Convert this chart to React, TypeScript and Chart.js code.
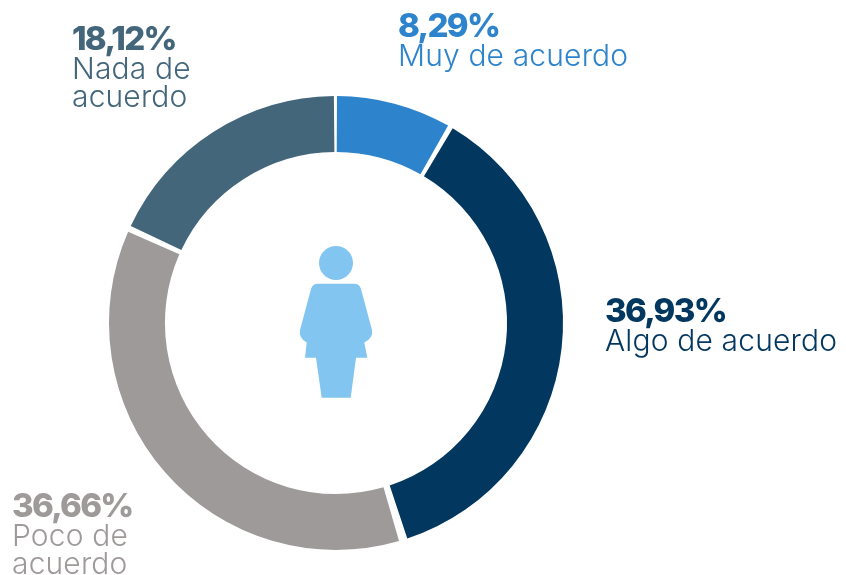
import React, { useEffect, useRef } from "react";
import { Chart, registerables } from "chart.js";

Chart.register(...registerables);

const categories = ["Muy de acuerdo", "Algo de acuerdo", "Poco de acuerdo", "Nada de acuerdo"];
const values = [8.29, 36.93, 36.66, 18.12];
const valueLabels = ["8,29%", "36,93%", "36,66%", "18,12%"];
const colors = ["#2e84cc", "#02375f", "#9e9a99", "#43667b"];
const labelLines = [["Muy de acuerdo"], ["Algo de acuerdo"], ["Poco de", "acuerdo"], ["Nada de", "acuerdo"]];
const labelAnchors = [
  { x: 398, y: 37 },
  { x: 605, y: 322 },
  { x: 12, y: 517 },
  { x: 72, y: 50 },
];

const FONT = "Inter, 'Open Sans', sans-serif";

const overlay = {
  id: "overlay",
  afterDraw(chart: any) {
    const ctx = chart.ctx as CanvasRenderingContext2D;
    const arc = chart.getDatasetMeta(0).data[0];
    const cx = arc.x;
    const cy = arc.y;
    ctx.save();
    ctx.fillStyle = "#82c5f0";
    ctx.beginPath();
    ctx.arc(cx, cy - 60, 17, 0, Math.PI * 2);
    ctx.fill();
    const P = (x: number, y: number): [number, number] => [cx + x, cy + y];
    ctx.beginPath();
    ctx.moveTo(...P(-18, -39.3));
    ctx.lineTo(...P(18, -39.3));
    ctx.quadraticCurveTo(...P(23.5, -39.3), ...P(25, -34));
    ctx.lineTo(...P(36, 7));
    ctx.quadraticCurveTo(...P(37.5, 15), ...P(28.3, 19.5));
    ctx.lineTo(...P(31.3, 34.7));
    ctx.lineTo(...P(20, 34.7));
    ctx.lineTo(...P(14.7, 74.7));
    ctx.lineTo(...P(-14.3, 74.7));
    ctx.lineTo(...P(-20, 34.7));
    ctx.lineTo(...P(-31, 34.7));
    ctx.lineTo(...P(-29.3, 19.5));
    ctx.quadraticCurveTo(...P(-37.5, 15), ...P(-36, 7));
    ctx.lineTo(...P(-25, -34));
    ctx.quadraticCurveTo(...P(-23.5, -39.3), ...P(-18, -39.3));
    ctx.closePath();
    ctx.fill();

    ctx.textAlign = "left";
    ctx.textBaseline = "alphabetic";
    values.forEach((_, i) => {
      const a = labelAnchors[i];
      ctx.fillStyle = colors[i];
      ctx.font = `800 33px ${FONT}`;
      (ctx as any).letterSpacing = "-1.7px";
      ctx.fillText(valueLabels[i], a.x, a.y);
      ctx.font = `300 30px ${FONT}`;
      (ctx as any).letterSpacing = "0.15px";
      labelLines[i].forEach((line, j) => {
        ctx.fillText(line, a.x, a.y + 28.5 * (j + 1));
      });
    });
    ctx.restore();
  },
};

export default function App() {
  const ref = useRef<HTMLCanvasElement>(null);
  useEffect(() => {
    document.body.style.margin = "0";
    const chart = new Chart(ref.current!, {
      type: "doughnut",
      data: {
        labels: categories,
        datasets: [{ data: values, backgroundColor: colors, borderWidth: 0, spacing: 6.5 }],
      },
      options: {
        responsive: false,
        animation: false,
        cutout: "75%",
        layout: { padding: { left: 109, right: 283, top: 96, bottom: 25 } },
        plugins: { legend: { display: false }, tooltip: { enabled: false } },
      } as any,
      plugins: [overlay],
    });
    return () => chart.destroy();
  }, []);
  return (
    <div style={{ width: 846, height: 575, background: "#fff" }}>
      <canvas ref={ref} width={846} height={575} style={{ display: "block" }} />
    </div>
  );
}
